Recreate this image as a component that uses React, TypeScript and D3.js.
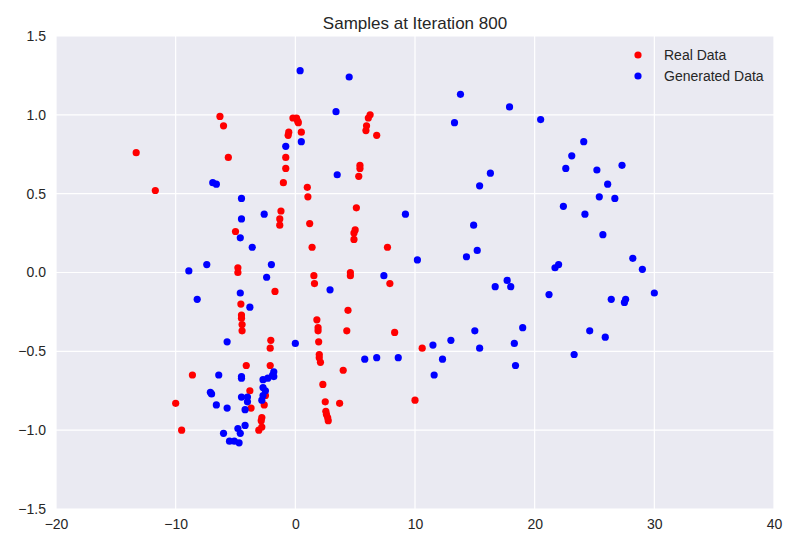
import { useEffect, useRef } from "react"
import * as d3 from "d3"

type Pt = [number, number]

const realData: Pt[] = [
  [-13.3, 0.76], [-11.7, 0.52], [-6.3, 0.99], [-6.0, 0.93], [-5.6, 0.73], [-5.0, 0.26],
  [-4.8, 0.03], [-4.8, 0.0], [-4.55, -0.2], [-4.5, -0.27], [-4.5, -0.29], [-4.45, -0.33],
  [-4.45, -0.37], [-4.1, -0.59], [-3.8, -0.75], [-3.7, -0.86], [-8.6, -0.65], [-10.0, -0.83],
  [-9.5, -1.0], [-2.8, -0.98], [-2.85, -0.94], [-2.8, -0.92], [-3.05, -1.0], [-2.6, -0.84],
  [-2.5, -0.78], [-2.1, -0.59], [-2.05, -0.43], [-2.1, -0.48], [-1.7, -0.12], [-1.2, 0.39],
  [-1.3, 0.34], [-1.3, 0.3], [-1.0, 0.57], [-0.8, 0.66], [-0.8, 0.73], [-0.6, 0.87],
  [-0.55, 0.89], [-0.2, 0.98], [0.1, 0.98], [0.2, 0.96], [0.25, 0.95], [0.5, 0.89],
  [1.0, 0.54], [1.05, 0.48], [1.2, 0.31], [1.4, 0.16], [1.55, -0.02], [1.6, -0.07],
  [1.8, -0.3], [1.9, -0.35], [1.9, -0.37], [1.95, -0.44], [2.0, -0.52], [2.0, -0.54],
  [2.1, -0.57], [2.3, -0.71], [2.5, -0.82], [2.55, -0.88], [2.6, -0.9], [2.7, -0.92],
  [2.75, -0.94], [3.7, -0.83], [4.0, -0.62], [4.4, -0.24], [4.3, -0.37], [4.6, 0.0],
  [4.6, -0.02], [4.9, 0.21], [4.9, 0.25], [5.0, 0.27], [5.1, 0.41], [5.3, 0.61],
  [5.4, 0.68], [5.4, 0.66], [5.9, 0.9], [5.95, 0.93], [6.1, 0.98], [6.25, 1.0],
  [6.8, 0.87], [7.7, 0.16], [7.9, -0.07], [8.3, -0.38], [10.0, -0.81], [10.6, -0.48],
]

const generatedData: Pt[] = [
  [0.4, 1.28], [4.5, 1.24], [3.4, 1.02], [0.5, 0.83], [-0.8, 0.8], [3.5, 0.62],
  [-6.9, 0.57], [-6.6, 0.56], [-4.5, 0.47], [-4.5, 0.34], [-2.6, 0.37], [-4.6, 0.22],
  [-3.6, 0.16], [-2.0, 0.05], [-7.4, 0.05], [-8.9, 0.01], [-2.4, -0.03], [2.9, -0.11],
  [-4.6, -0.13], [-8.2, -0.17], [-3.8, -0.22], [0.0, -0.45], [-5.7, -0.44], [-7.1, -0.76],
  [-7.0, -0.77], [-6.4, -0.65], [-6.6, -0.84], [-5.7, -0.86], [-4.5, -0.66], [-4.5, -0.67],
  [-4.5, -0.79], [-4.0, -0.79], [-4.2, -0.87], [-4.0, -0.82], [-4.2, -0.97], [-4.8, -0.99],
  [-6.0, -1.02], [-4.6, -1.02], [-5.5, -1.07], [-5.1, -1.07], [-4.7, -1.08], [-2.7, -0.68],
  [-2.3, -0.67], [-1.9, -0.65], [-1.8, -0.63], [-1.8, -0.66], [-2.7, -0.73], [-2.5, -0.75],
  [-2.8, -0.81], [-2.7, -0.78], [5.8, -0.55], [6.8, -0.54], [8.6, -0.54], [7.4, -0.02],
  [9.2, 0.37], [10.2, 0.08], [11.5, -0.46], [11.6, -0.65], [12.3, -0.55], [13.0, -0.43],
  [13.3, 0.95], [13.8, 1.13], [14.3, 0.1], [14.9, 0.3], [15.2, 0.14], [15.4, 0.55],
  [15.0, -0.37], [15.4, -0.48], [16.3, 0.63], [16.7, -0.09], [17.7, -0.05], [18.0, -0.09],
  [17.9, 1.05], [18.3, -0.45], [18.4, -0.59], [19.0, -0.35], [20.5, 0.97], [21.2, -0.14],
  [21.7, 0.03], [22.0, 0.05], [22.4, 0.42], [22.6, 0.66], [23.1, 0.74], [23.3, -0.52],
  [24.1, 0.83], [24.2, 0.37], [24.6, -0.37], [25.2, 0.65], [25.4, 0.48], [25.7, 0.24],
  [25.9, -0.41], [26.1, 0.56], [26.4, -0.17], [26.7, 0.47], [27.3, 0.68], [27.5, -0.19],
  [27.6, -0.17], [28.2, 0.09], [29.0, 0.02], [30.0, -0.13],
]

const xTicks = [-20, -10, 0, 10, 20, 30, 40]
const yTicks = [-1.5, -1.0, -0.5, 0.0, 0.5, 1.0, 1.5]

const W = 800
const H = 550
const margin = { top: 36, right: 26, bottom: 41, left: 56 }
const font = "'Liberation Sans', Arial, sans-serif"

export default function App() {
  const svgRef = useRef<SVGSVGElement | null>(null)

  useEffect(() => {
    if (!svgRef.current) return
    const svg = d3.select(svgRef.current)
    svg.selectAll("*").remove()

    const innerW = W - margin.left - margin.right
    const innerH = H - margin.top - margin.bottom
    const x = d3.scaleLinear().domain([-20, 40]).range([0, innerW])
    const y = d3.scaleLinear().domain([-1.5, 1.5]).range([innerH, 0])
    const minus = (s: string) => s.replace("-", "\u2212")

    const g = svg.append("g").attr("transform", `translate(${margin.left},${margin.top})`)
    g.append("rect").attr("width", innerW).attr("height", innerH).attr("fill", "#eaeaf2")

    g.selectAll(".vgrid")
      .data(xTicks)
      .join("line")
      .attr("x1", (d) => x(d)).attr("x2", (d) => x(d))
      .attr("y1", 0).attr("y2", innerH)
      .attr("stroke", "white").attr("stroke-width", 1.2)
    g.selectAll(".hgrid")
      .data(yTicks)
      .join("line")
      .attr("y1", (d) => y(d)).attr("y2", (d) => y(d))
      .attr("x1", 0).attr("x2", innerW)
      .attr("stroke", "white").attr("stroke-width", 1.2)

    const xAxis = g.append("g").attr("transform", `translate(0,${innerH})`)
      .call(d3.axisBottom(x).tickValues(xTicks).tickSize(0).tickPadding(10).tickFormat((d) => minus(d3.format("d")(d as number))))
    const yAxis = g.append("g")
      .call(d3.axisLeft(y).tickValues(yTicks).tickSize(0).tickPadding(10).tickFormat((d) => minus(d3.format(".1f")(d as number))))
    for (const a of [xAxis, yAxis]) {
      a.select(".domain").remove()
      a.selectAll("text").attr("fill", "#262626").style("font-size", "14px").style("font-family", font)
    }

    g.append("g").selectAll("circle")
      .data(realData)
      .join("circle")
      .attr("cx", (d) => x(d[0])).attr("cy", (d) => y(d[1]))
      .attr("r", 3.6).attr("fill", "red")
    g.append("g").selectAll("circle")
      .data(generatedData)
      .join("circle")
      .attr("cx", (d) => x(d[0])).attr("cy", (d) => y(d[1]))
      .attr("r", 3.6).attr("fill", "blue")

    const legend = g.append("g").attr("transform", `translate(${innerW - 136},19)`)
    ;[["Real Data", "red"], ["Generated Data", "blue"]].forEach(([label, color], i) => {
      const row = legend.append("g").attr("transform", `translate(0,${i * 21})`)
      row.append("circle").attr("cx", 0).attr("cy", 0).attr("r", 3.6).attr("fill", color)
      row.append("text").attr("x", 26).attr("y", 5).text(label)
        .attr("fill", "#262626").style("font-size", "14px").style("font-family", font)
    })

    svg.append("text")
      .attr("x", margin.left + innerW / 2).attr("y", 29)
      .attr("text-anchor", "middle")
      .attr("fill", "#262626").style("font-size", "17px").style("font-family", font)
      .text("Samples at Iteration 800")
  }, [])

  return <svg ref={svgRef} width={W} height={H} style={{ display: "block", margin: "-8px" }}></svg>
}
